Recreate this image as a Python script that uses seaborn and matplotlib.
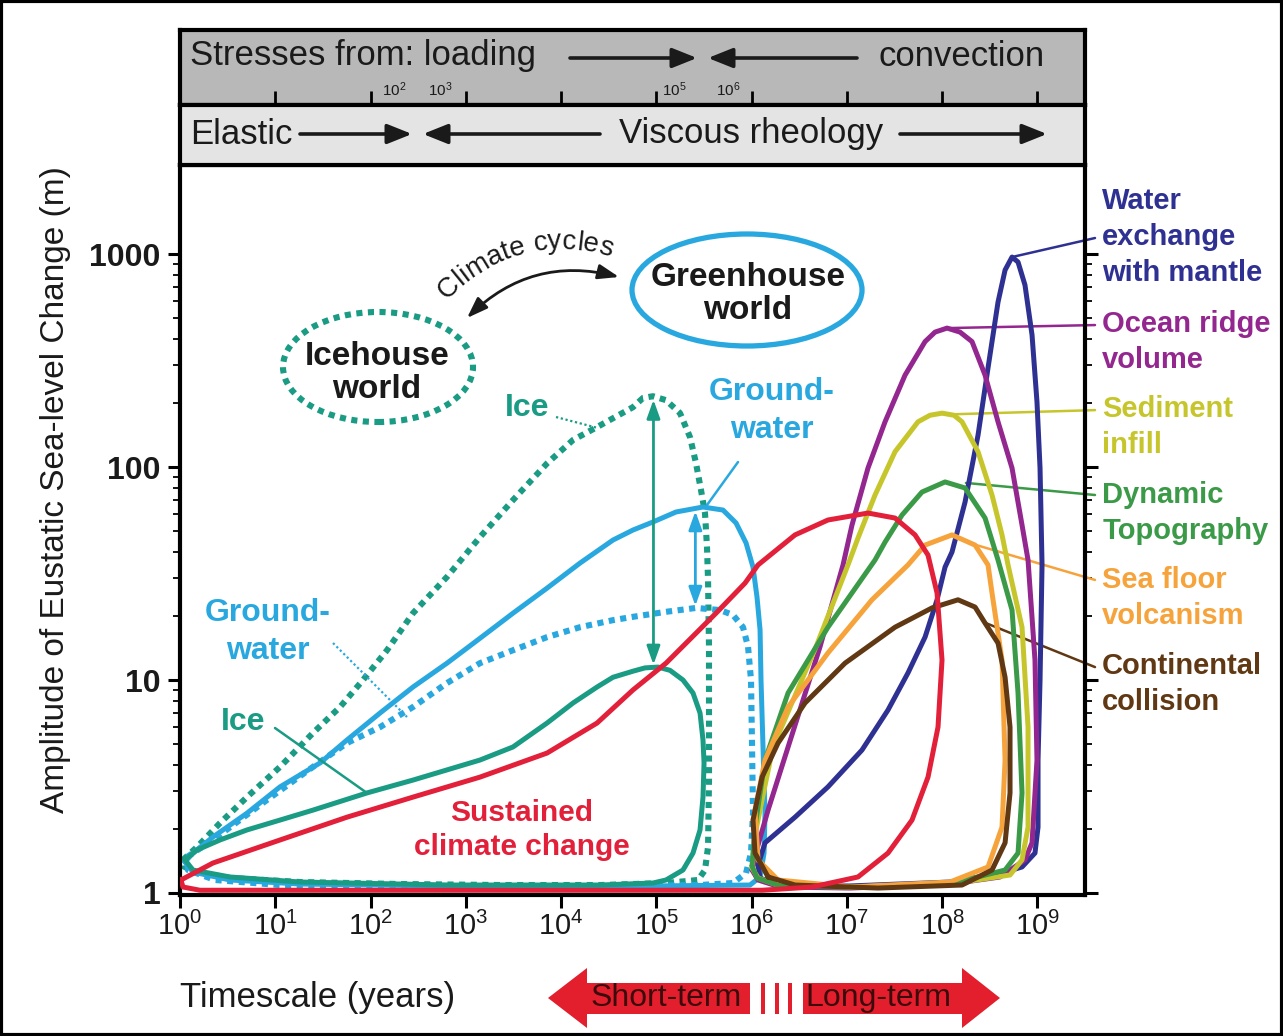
import numpy as np
import pandas as pd
import matplotlib
matplotlib.use("Agg")
import matplotlib.pyplot as plt
import seaborn as sns
from matplotlib import font_manager
from matplotlib.font_manager import FontProperties, findfont, get_font
from matplotlib.patches import Ellipse, Polygon, Rectangle, FancyArrowPatch
from matplotlib.ticker import FixedLocator, NullFormatter, NullLocator

# ------------------------------------------------------------------ data
decade_ticks = [1e0, 1e1, 1e2, 1e3, 1e4, 1e5, 1e6, 1e7, 1e8, 1e9]
xtick_labels = ["$10^{0}$", "$10^{1}$", "$10^{2}$", "$10^{3}$", "$10^{4}$",
                "$10^{5}$", "$10^{6}$", "$10^{7}$", "$10^{8}$", "$10^{9}$"]
ytick_values = [1, 10, 100, 1000]
ytick_labels = ["1", "10", "100", "1000"]
ytick_minor = [2, 3, 4, 5, 6, 7, 8, 9, 20, 30, 40, 50, 60, 70, 80, 90,
               200, 300, 400, 500, 600, 700, 800, 900]

# each loop: (log10 timescale [years], amplitude [m]) read around the outline
ice_cycles = [(0.031, 1.43), (0.178, 1.644), (0.420, 2.13), (0.703, 2.82), (1.050, 3.91),
              (1.396, 5.64), (1.680, 7.47), (1.921, 10.0), (2.173, 13.8), (2.446, 20.6),
              (2.803, 30.5), (3.149, 46.9), (3.496, 70.0), (3.853, 104), (4.126, 134),
              (4.378, 154), (4.755, 191), (4.860, 211), (4.965, 215), (5.102, 206),
              (5.249, 179), (5.354, 138), (5.417, 104), (5.469, 78.0), (5.511, 60.8),
              (5.532, 42.1), (5.543, 29.5), (5.553, 14.3), (5.553, 7.0), (5.553, 3.39),
              (5.543, 1.644), (5.511, 1.282), (5.438, 1.151), (5.102, 1.114), (4.409, 1.09),
              (3.359, 1.09), (2.309, 1.102), (1.260, 1.126), (0.525, 1.176), (0.157, 1.254),
              (0.031, 1.339)]

ice_sustained = [(0.052, 1.43), (0.178, 1.592), (0.420, 1.774), (0.703, 1.977), (1.050, 2.20),
                 (1.396, 2.45), (1.963, 2.95), (2.446, 3.39), (3.149, 4.21), (3.496, 4.85),
                 (3.853, 6.28), (4.126, 7.80), (4.378, 9.27), (4.545, 10.3), (4.755, 11.0),
                 (4.881, 11.4), (5.018, 11.5), (5.144, 11.1), (5.280, 10.0), (5.385, 8.69),
                 (5.459, 7.0), (5.490, 5.23), (5.501, 4.08), (5.490, 2.82), (5.459, 1.977),
                 (5.385, 1.54), (5.280, 1.282), (5.102, 1.151), (4.965, 1.114), (4.409, 1.09),
                 (2.834, 1.09), (1.260, 1.126), (0.525, 1.189), (0.136, 1.282)]

gw_sustained = [(0.052, 1.40), (0.136, 1.54), (0.346, 1.832), (0.703, 2.37), (1.050, 3.15),
                (1.470, 4.08), (1.753, 5.23), (2.100, 7.00), (2.446, 9.27), (2.803, 12.0),
                (3.149, 15.7), (3.496, 20.6), (3.853, 27.0), (4.199, 35.4), (4.545, 45.4),
                (4.755, 50.6), (4.965, 55.2), (5.207, 61.5), (5.490, 64.9), (5.700, 62.8),
                (5.837, 54.6), (5.942, 44.0), (6.015, 33.9), (6.057, 24.5), (6.089, 17.2),
                (6.099, 10.0), (6.120, 4.85), (6.141, 2.37), (6.131, 1.54), (6.089, 1.189),
                (5.984, 1.09), (4.934, 1.079), (2.834, 1.079), (1.260, 1.102), (0.525, 1.151),
                (0.136, 1.254)]

gw_cycles = [(0.073, 1.476), (0.346, 1.774), (0.871, 2.65), (1.396, 3.91), (1.753, 5.06),
             (2.100, 6.01), (2.446, 7.47), (2.803, 9.68), (3.149, 12.0), (3.496, 13.8),
             (3.853, 15.9), (4.199, 17.7), (4.545, 19.1), (4.755, 19.8), (5.102, 20.9),
             (5.417, 21.8), (5.669, 21.3), (5.805, 20.2), (5.910, 17.7), (5.963, 14.3),
             (5.994, 10.0), (6.005, 4.85), (6.015, 2.37), (5.994, 1.54), (5.942, 1.241),
             (5.805, 1.114), (5.459, 1.09), (3.884, 1.067), (2.309, 1.067), (1.050, 1.09),
             (0.367, 1.151), (0.084, 1.282)]

climate_change = [(0.010, 1.151), (0.346, 1.383), (1.050, 1.774), (1.753, 2.27), (2.446, 2.82),
                  (3.149, 3.50), (3.853, 4.54), (4.378, 6.28), (4.755, 8.98), (5.102, 12.0),
                  (5.627, 20.6), (5.931, 28.5), (6.068, 34.7), (6.456, 48.0), (6.802, 56.4),
                  (7.222, 60.8), (7.506, 57.6), (7.716, 48.0), (7.852, 38.6), (7.947, 25.6),
                  (7.999, 12.4), (7.957, 6.01), (7.852, 3.50), (7.684, 2.20), (7.432, 1.54),
                  (7.117, 1.189), (6.634, 1.067), (6.110, 1.03), (4.755, 1.03), (2.309, 1.03),
                  (0.210, 1.03), (0.031, 1.067)]

water_mantle = [(6.068, 1.353), (6.141, 1.72), (6.456, 2.27), (6.802, 3.15), (7.159, 4.69),
                (7.432, 7.23), (7.642, 10.8), (7.821, 15.9), (7.947, 23.8), (8.031, 33.9),
                (8.104, 39.9), (8.241, 68.5), (8.377, 141), (8.482, 292), (8.587, 595),
                (8.661, 841), (8.734, 968), (8.797, 917), (8.870, 715), (8.944, 417),
                (8.996, 202), (9.028, 98.9), (9.049, 34.7), (9.028, 10.0), (9.007, 4.21),
                (9.007, 2.04), (8.975, 1.54), (8.839, 1.325), (8.629, 1.241), (8.083, 1.126),
                (7.033, 1.079), (6.299, 1.079), (6.089, 1.176)]

ridge_volume = [(6.005, 1.282), (6.068, 1.68), (6.173, 2.45), (6.330, 4.08), (6.718, 14.3),
                (6.960, 34.7), (7.054, 53.4), (7.222, 98.9), (7.401, 163), (7.611, 270),
                (7.821, 388), (7.926, 430), (8.052, 449), (8.188, 430), (8.314, 388),
                (8.451, 270), (8.587, 163), (8.734, 98.9), (8.839, 53.4), (8.902, 36.6),
                (8.975, 12.4), (8.996, 4.21), (8.944, 1.72), (8.870, 1.43), (8.608, 1.189),
                (8.083, 1.102), (7.033, 1.055), (6.299, 1.067), (6.068, 1.151)]

sediment_infill = [(6.005, 1.31), (6.036, 1.87), (6.120, 2.88), (6.225, 4.85), (6.676, 14.3),
                   (7.012, 34.7), (7.117, 46.4), (7.296, 73.9), (7.506, 118), (7.747, 163),
                   (7.873, 175), (7.999, 179), (8.125, 175), (8.209, 163), (8.377, 118),
                   (8.524, 73.9), (8.629, 48.0), (8.692, 34.7), (8.839, 17.7), (8.902, 6.01),
                   (8.902, 2.04), (8.839, 1.43), (8.713, 1.215), (8.083, 1.102), (7.033, 1.067),
                   (6.299, 1.079), (6.068, 1.176)]

dynamic_topo = [(6.005, 1.34), (6.036, 2.04), (6.141, 4.21), (6.383, 8.69), (6.802, 17.7),
                (7.296, 36.6), (7.401, 44.4), (7.579, 59.5), (7.789, 76.3), (8.031, 85.1),
                (8.241, 79.7), (8.451, 57.6), (8.587, 36.6), (8.734, 21.3), (8.797, 8.69),
                (8.839, 2.95), (8.797, 1.54), (8.661, 1.282), (8.083, 1.102), (7.033, 1.067),
                (6.299, 1.079), (6.057, 1.176)]

seafloor_volc = [(6.278, 1.151), (6.068, 1.43), (6.036, 2.45), (6.141, 4.21), (6.383, 7.47),
                 (6.802, 13.4), (7.264, 23.8), (7.642, 34.7), (7.821, 43.0), (8.104, 48.0),
                 (8.346, 43.0), (8.482, 34.7), (8.524, 25.6), (8.629, 12.4), (8.661, 4.21),
                 (8.629, 2.04), (8.482, 1.325), (8.083, 1.126), (7.033, 1.067)]

cont_collision = [(6.173, 1.189), (6.036, 1.54), (6.015, 2.20), (6.110, 3.50), (6.278, 5.06),
                  (6.561, 7.80), (6.981, 12.0), (7.506, 17.7), (7.894, 21.8), (8.167, 23.8),
                  (8.346, 22.0), (8.451, 18.5), (8.587, 14.9), (8.661, 10.3), (8.713, 6.01),
                  (8.713, 2.95), (8.661, 1.72), (8.524, 1.282), (8.209, 1.09), (7.327, 1.055),
                  (6.456, 1.09)]

# right-hand labels and their leader lines
proc_labels = ["Water\nexchange\nwith mantle", "Ocean ridge\nvolume", "Sediment\ninfill",
               "Dynamic\nTopography", "Sea floor\nvolcanism", "Continental\ncollision"]
lead_start_logt = [8.734, 8.052, 8.14, 8.25, 8.36, 8.46]
lead_start_amp = [968, 449, 177, 84.2, 43.0, 18.5]
lead_end_logt = 9.605
lead_end_amp = [1189, 464, 185, 73.9, 29.5, 11.5]
label_logt = 9.68
label_amp = [1202, 386, 154, 60.8, 24.3, 9.6]

# vertical range arrows (ice cycles, groundwater cycles)
range_logt = [4.97, 5.41]
range_top = [207, 62.0]
range_bottom = [11.8, 22.3]

# ------------------------------------------------------------------ style
sns.set_theme(style="ticks")
names = {f.name for f in font_manager.fontManager.ttflist}
NARROW = "Liberation Sans Narrow" if "Liberation Sans Narrow" in names else "Liberation Sans"
plt.rcParams["font.family"] = ["Liberation Sans", "DejaVu Sans"]
plt.rcParams["mathtext.fontset"] = "custom"
plt.rcParams["mathtext.rm"] = NARROW
plt.rcParams["mathtext.it"] = NARROW
plt.rcParams["mathtext.bf"] = NARROW + ":bold"
XT_SIZE = 24 if NARROW != "Liberation Sans" else 21

ICE = "#1a9b84"
GW = "#29a8df"
RED = "#e2203a"
NAVY = "#2e3192"
PURPLE = "#93278f"
SED = "#c6c62c"
GREEN = "#3b9a47"
ORANGE = "#f6a33c"
BROWN = "#603813"
INK = "#1a1a1a"

W, H = 1283, 1036
fig = plt.figure(figsize=(W / 100, H / 100), dpi=100)
fig.patch.set_facecolor("white")


def F(x, y):
    return (x / W, 1 - y / H)


def box(x0, y0, x1, y1):
    return [x0 / W, 1 - y1 / H, (x1 - x0) / W, (y1 - y0) / H]


ax = fig.add_axes(box(180, 165, 1085, 895))
ax_s = fig.add_axes(box(180, 30, 1085, 105))
ax_v = fig.add_axes(box(180, 105, 1085, 165))

XLIM = (1.0, 10 ** 9.5)
ax.set_xscale("log")
ax.set_yscale("log")
ax.set_xlim(*XLIM)
ax.set_ylim(10 ** -0.0094, 10 ** 3.418)
ax.set_facecolor("white")


def loop(pts, color, dotted=False, z=2):
    arr = np.array(pts + pts[:1], dtype=float)
    df = pd.DataFrame({"t": 10 ** arr[:, 0], "a": arr[:, 1]})
    kw = dict(linestyle=(0, (1.0, 0.9)), lw=4.4) if dotted else dict(lw=3.6)
    sns.lineplot(data=df, x="t", y="a", sort=False, estimator=None, color=color, ax=ax,
                 zorder=z, solid_joinstyle="round", solid_capstyle="round", **kw)


loop(ice_cycles, ICE, dotted=True, z=2)
loop(gw_cycles, GW, dotted=True, z=2.1)
loop(gw_sustained, GW, z=2.2)
loop(ice_sustained, ICE, z=2.3)
loop(water_mantle, NAVY, z=2.4)
loop(ridge_volume, PURPLE, z=2.5)
loop(sediment_infill, SED, z=2.6)
loop(dynamic_topo, GREEN, z=2.7)
loop(seafloor_volc, ORANGE, z=2.8)
loop(cont_collision, BROWN, z=2.9)
loop(climate_change, RED, z=3.0)

# leader lines to right labels
lead_colors = [NAVY, PURPLE, SED, GREEN, ORANGE, BROWN]
for i, c in enumerate(lead_colors):
    ax.plot([10 ** lead_start_logt[i], 10 ** lead_end_logt], [lead_start_amp[i], lead_end_amp[i]],
            color=c, lw=1.8, clip_on=False, zorder=1.9)
    ax.text(10 ** label_logt, label_amp[i], proc_labels[i], color=c, fontsize=21,
            fontweight="bold", ha="left", va="center", linespacing=1.36, clip_on=False)

# vertical range arrows
for lt, top, bot, c in zip(range_logt, range_top, range_bottom, [ICE, GW]):
    ax.annotate("", xy=(10 ** lt, bot), xytext=(10 ** lt, top),
                arrowprops=dict(arrowstyle="<|-|>,head_length=0.7,head_width=0.25",
                                mutation_scale=16, lw=2.0, color=c, shrinkA=0, shrinkB=0),
                zorder=4)

# ticks
ax.set_xticks(decade_ticks, labels=xtick_labels)
ax.xaxis.set_minor_locator(NullLocator())
ax.set_yticks(ytick_values, labels=ytick_labels)
ax.yaxis.set_minor_locator(FixedLocator(ytick_minor))
ax.yaxis.set_minor_formatter(NullFormatter())
ax.tick_params(axis="x", which="major", direction="out", length=9, width=2.2, pad=3,
               labelsize=XT_SIZE, bottom=True, top=False, color="black", labelcolor=INK)
ax.tick_params(axis="y", which="major", direction="out", length=9, width=2.2, pad=5,
               labelsize=23, left=True, right=True, color="black", labelcolor=INK)
ax.tick_params(axis="y", which="minor", direction="out", length=5, width=1.3,
               left=True, right=True, color="black")
for lbl in ax.get_yticklabels():
    lbl.set_fontweight("bold")

ax.set_ylabel("Amplitude of Eustatic Sea-level Change (m)", fontsize=24, color=INK)
ax.yaxis.set_label_coords(-0.138, 0.555)
ax.yaxis.label.set_va("center")
ax.set_xlabel("Timescale (years)", fontsize=25, color=INK)
ax.xaxis.set_label_coords(0.0, -0.141)
ax.xaxis.label.set_ha("left")
ax.xaxis.label.set_va("center")

for a in (ax, ax_s, ax_v):
    for sp in a.spines.values():
        sp.set_visible(True)
        sp.set_linewidth(3)
        sp.set_color("black")

# top panels
ax_s.set_facecolor("#b8b8b8")
ax_s.set_xscale("log")
ax_s.set_xlim(*XLIM)
ax_s.set_ylim(0, 1)
ax_s.set_xticks(decade_ticks[1:])
ax_s.xaxis.set_minor_locator(NullLocator())
ax_s.tick_params(axis="x", which="major", direction="in", length=10, width=2, bottom=True,
                 top=False, labelbottom=False, color="black")
ax_s.set_yticks([])
ax_v.set_facecolor("#e4e4e4")
ax_v.set_xticks([])
ax_v.set_yticks([])

fig.text(*F(190, 56), "Stresses from: loading", fontsize=25, ha="left", va="center", color=INK)
fig.text(*F(1045, 56), "convection", fontsize=25, ha="right", va="center", color=INK)
fig.text(*F(190, 134), "Elastic", fontsize=25, ha="left", va="center", color=INK)
fig.text(*F(751, 134), "Viscous rheology", fontsize=25, ha="center", va="center", color=INK)
for s, x, ha in [("$10^{2}$", 382, "left"), ("$10^{3}$", 452, "right"),
                 ("$10^{5}$", 662, "left"), ("$10^{6}$", 740, "right")]:
    fig.text(*F(x, 90), s, fontsize=11, ha=ha, va="center", color=INK)


def farrow(x0, y0, x1, y1):
    fig.add_artist(FancyArrowPatch(F(x0, y0), F(x1, y1), transform=fig.transFigure,
                                   arrowstyle="-|>,head_length=0.75,head_width=0.3",
                                   mutation_scale=20, lw=2.6, color=INK, shrinkA=0, shrinkB=0))


farrow(570, 58, 697, 58)
farrow(857, 58, 708, 58)
farrow(300, 134, 412, 134)
farrow(600, 134, 423, 134)
farrow(900, 134, 1047, 134)

# climate world ellipses
fig.add_artist(Ellipse(F(378, 367), 190 / W, 110 / H, transform=fig.transFigure, fill=False,
                       ec=ICE, lw=4.4, ls=(0, (1.0, 0.9))))
fig.add_artist(Ellipse(F(747, 290), 230 / W, 112 / H, transform=fig.transFigure, fill=False,
                       ec=GW, lw=3.8))
fig.text(*F(377, 373), "Icehouse\nworld", fontsize=24, fontweight="bold", ha="center",
         va="center", linespacing=1.08, color=INK)
fig.text(*F(748, 294), "Greenhouse\nworld", fontsize=24, fontweight="bold", ha="center",
         va="center", linespacing=1.05, color=INK)

fig.add_artist(FancyArrowPatch(F(467, 318), F(619, 277), transform=fig.transFigure,
                               connectionstyle="arc3,rad=-0.28",
                               arrowstyle="<|-|>,head_length=0.7,head_width=0.25",
                               mutation_scale=18, lw=2.0, color=INK, shrinkA=0, shrinkB=0))

# "Climate cycles" along an arc
cc_text = "Climate cycles"
cc_size = 20
cc_fp = FontProperties(family="Liberation Sans", size=cc_size)
ft = get_font(findfont(cc_fp))
ft.set_size(cc_size, 100)
advs = [ft.load_char(ord(c)).linearHoriAdvance / 65536 + 0.6 for c in cc_text]
cx, cy, R = 562, 405, 163
theta0 = np.deg2rad(134) + (advs[0] / 2) / R
cum = 0.0
for ch, a in zip(cc_text, advs):
    th = theta0 - (cum + a / 2) / R
    px, py = cx + R * np.cos(th), cy - R * np.sin(th)
    fig.text(px / W, 1 - py / H, ch, rotation=np.rad2deg(th) - 90, rotation_mode="anchor",
             ha="center", va="center", fontproperties=cc_fp, color=INK)
    cum += a

# in-plot labels
fig.text(*F(527, 408), "Ice", fontsize=23, fontweight="bold", color=ICE, ha="center", va="center")
fig.text(*F(772, 411), "Ground-\nwater", fontsize=23, fontweight="bold", color=GW,
         ha="center", va="center", linespacing=1.32)
fig.text(*F(268, 632), "Ground-\nwater", fontsize=23, fontweight="bold", color=GW,
         ha="center", va="center", linespacing=1.36)
fig.text(*F(243, 722), "Ice", fontsize=23, fontweight="bold", color=ICE, ha="center", va="center")
fig.text(*F(522, 830), "Sustained\nclimate change", fontsize=21.5, fontweight="bold", color=RED,
         ha="center", va="center", linespacing=1.28)


def leader(p0, p1, color, dotted=False):
    (x0, y0), (x1, y1) = p0, p1
    lt0, lt1 = (x0 - 180) / 95.26, (x1 - 180) / 95.26
    a0, a1 = 10 ** ((893 - y0) / 213), 10 ** ((893 - y1) / 213)
    ax.plot([10 ** lt0, 10 ** lt1], [a0, a1], color=color, lw=1.8 if not dotted else 1.6,
            ls=(0, (1, 1.2)) if dotted else "-", zorder=5)


leader((556, 417), (598, 428), ICE, dotted=True)
leader((738, 462), (707, 505), GW)
leader((333, 643), (407, 717), GW, dotted=True)
leader((275, 728), (367, 793), ICE)

# bottom short/long-term arrow
RED_ARROW = "#e31e2d"
left_arrow = [(548, 998), (587, 968), (587, 983), (750, 983), (750, 1014), (587, 1014), (587, 1028)]
right_arrow = [(1000, 998), (962, 968), (962, 983), (803, 983), (803, 1014), (962, 1014), (962, 1028)]
for poly in (left_arrow, right_arrow):
    fig.add_artist(Polygon([F(x, y) for x, y in poly], closed=True, transform=fig.transFigure,
                           fc=RED_ARROW, ec="none"))
for xb in (763, 777, 790):
    fig.add_artist(Rectangle(F(xb - 1.7, 1014), 3.4 / W, 31 / H, transform=fig.transFigure,
                             fc=RED_ARROW, ec="none"))
fig.text(*F(666, 998), "Short-term", fontsize=23, ha="center", va="center", color="#3d0b0b")
fig.text(*F(878, 998), "Long-term", fontsize=23, ha="center", va="center", color="#3d0b0b")

# outer frame
fig.add_artist(Rectangle((0.001, 0.001), 0.998, 0.998, transform=fig.transFigure, fill=False,
                         ec="black", lw=3))

fig.savefig("out.png", dpi=100, facecolor="white")
